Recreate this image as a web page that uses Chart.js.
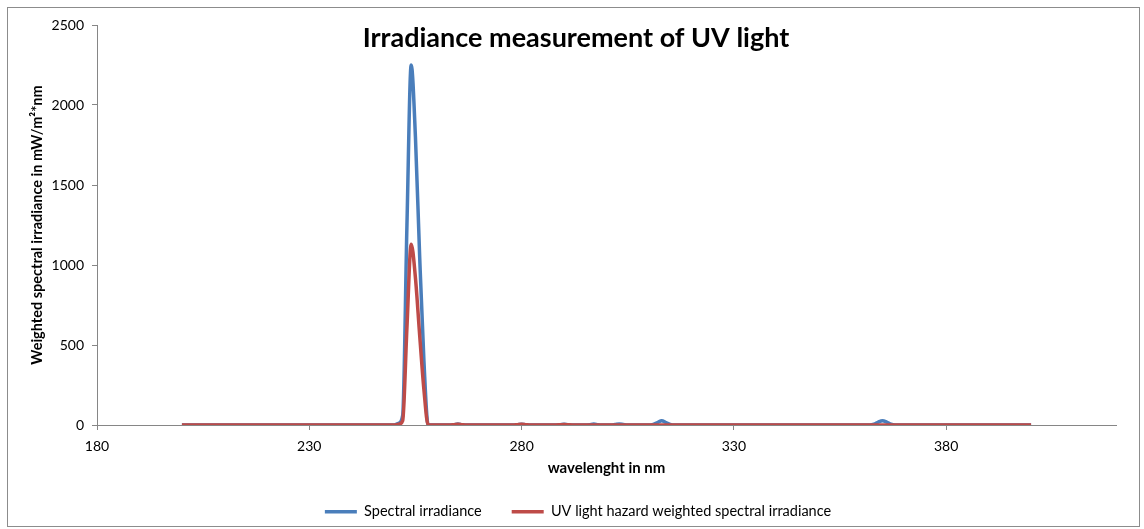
<!DOCTYPE html>
<html>
<head>
<meta charset="utf-8">
<title>Irradiance measurement of UV light</title>
<script src="https://cdn.jsdelivr.net/npm/chart.js@4/dist/chart.umd.min.js"></script>
<style>
    html, body { margin: 0; padding: 0; background: #fff; }
    #wrap { position: relative; width: 1144px; height: 529px; }
</style>
</head>
<body>
<div id="wrap"><canvas id="uvChart"></canvas></div>
<script>
// ========================
// Données
// ========================

const TITRE = 'Irradiance measurement of UV light';

// longueurs d'onde en nm
const longueursOnde = [200, 249, 250, 251, 252, 253, 254, 255, 256, 257, 258, 260,
    263, 264, 265, 266, 267, 278, 279, 280, 281, 282, 288, 289, 290, 291, 292,
    295, 296, 297, 298, 299, 301, 302, 303, 304, 305, 310, 311, 312, 313, 314, 315, 316,
    362, 363, 364, 365, 366, 367, 368, 400];

// Spectral irradiance
const irradianceSpectrale = [0, 0, 0, 10, 60, 1250, 2250, 1800, 1050, 400, 0, 0,
    0, 2, 6, 2, 0, 0, 2, 5, 2, 0, 0, 2, 5, 2, 0,
    0, 2, 6, 2, 0, 0, 3, 7, 3, 0, 0, 4, 15, 27, 15, 4, 0,
    0, 5, 18, 27, 18, 5, 0, 0];

// UV light hazard weighted spectral irradiance
const irradiancePonderee = [0, 0, 0, 4, 28, 610, 1130, 920, 560, 220, 0, 0,
    0, 2, 5, 2, 0, 0, 2, 4, 2, 0, 0, 1, 3, 1, 0,
    0, 0, 0, 0, 0, 0, 0, 0, 0, 0, 0, 0, 0, 0, 0, 0, 0,
    0, 0, 0, 0, 0, 0, 0, 0];

const ticksX = [180, 230, 280, 330, 380];
const ticksY = [0, 500, 1000, 1500, 2000, 2500];

const COULEUR_BLEU = '#4a7ebb';
const COULEUR_ROUGE = '#be4b48';
const COULEUR_AXE = '#868686';

// ========================
// Utilitaires
// ========================

/**
 * Construire les points {x, y} d'une série
 */
function toPoints(valeurs) {
    return longueursOnde.map((x, i) => ({ x: x, y: valeurs[i] }));
}

/**
 * Titre superposé à la zone de tracé + cadre du graphique
 */
const cadrePlugin = {
    id: 'cadre',
    afterDraw(chart) {
        const ctx = chart.ctx;
        ctx.save();
        ctx.strokeStyle = '#8c8c8c';
        ctx.lineWidth = 1;
        ctx.strokeRect(7.5, 7.5, 1132, 519);
        ctx.fillStyle = '#000';
        ctx.font = 'bold 27px Lato';
        ctx.textAlign = 'center';
        ctx.textBaseline = 'middle';
        ctx.fillText(TITRE, 576, 38);
        ctx.restore();
    }
};

// ========================
// Graphique Chart.js
// ========================

function renderUvChart() {
    const ctx = document.getElementById('uvChart');

    new Chart(ctx, {
        type: 'line',
        data: {
            datasets: [{
                label: 'Spectral irradiance',
                data: toPoints(irradianceSpectrale),
                borderColor: COULEUR_BLEU,
                backgroundColor: COULEUR_BLEU,
                borderWidth: 3.5,
                pointRadius: 0,
                cubicInterpolationMode: 'monotone',
                order: 1
            }, {
                label: 'UV light hazard weighted spectral irradiance',
                data: toPoints(irradiancePonderee),
                borderColor: COULEUR_ROUGE,
                backgroundColor: COULEUR_ROUGE,
                borderWidth: 3.5,
                pointRadius: 0,
                cubicInterpolationMode: 'monotone',
                order: 0
            }]
        },
        options: {
            responsive: true,
            maintainAspectRatio: false,
            animation: false,
            layout: {
                padding: { left: 40, right: 28, top: 25, bottom: 0 }
            },
            plugins: {
                legend: {
                    display: true,
                    position: 'bottom',
                    labels: {
                        usePointStyle: true,
                        pointStyle: 'line',
                        pointStyleWidth: 32,
                        padding: 30,
                        color: '#000',
                        font: { family: 'Lato', size: 14.5 },
                        sort: (a, b) => a.datasetIndex - b.datasetIndex
                    }
                },
                tooltip: { enabled: false }
            },
            scales: {
                x: {
                    type: 'linear',
                    min: 180,
                    max: 420,
                    afterBuildTicks: (scale) => {
                        scale.ticks = ticksX.map(v => ({ value: v }));
                    },
                    afterFit: (scale) => { scale.height = 49.5; },
                    grid: { drawOnChartArea: false, tickLength: 5, color: COULEUR_AXE },
                    border: { color: COULEUR_AXE },
                    ticks: {
                        padding: 8,
                        color: '#000',
                        font: { family: 'Lato', size: 14 },
                        callback: (v) => String(v)
                    },
                    title: {
                        display: true,
                        text: 'wavelenght in nm',
                        color: '#000',
                        padding: { top: 0, bottom: -2.5 },
                        font: { family: 'Lato', size: 15, weight: 'bold' }
                    }
                },
                y: {
                    min: 0,
                    max: 2500,
                    afterBuildTicks: (scale) => {
                        scale.ticks = ticksY.map(v => ({ value: v }));
                    },
                    afterFit: (scale) => { scale.width = 57; },
                    grid: { drawOnChartArea: false, tickLength: 5, color: COULEUR_AXE },
                    border: { color: COULEUR_AXE },
                    ticks: {
                        padding: 8,
                        color: '#000',
                        font: { family: 'Lato', size: 14 },
                        callback: (v) => String(v)
                    },
                    title: {
                        display: true,
                        text: 'Weighted spectral irradiance in mW/m²*nm',
                        color: '#000',
                        padding: { top: -11, bottom: 0 },
                        font: { family: 'Lato', size: 14.5, weight: 'bold' }
                    }
                }
            }
        },
        plugins: [cadrePlugin]
    });
}

renderUvChart();
</script>
</body>
</html>
